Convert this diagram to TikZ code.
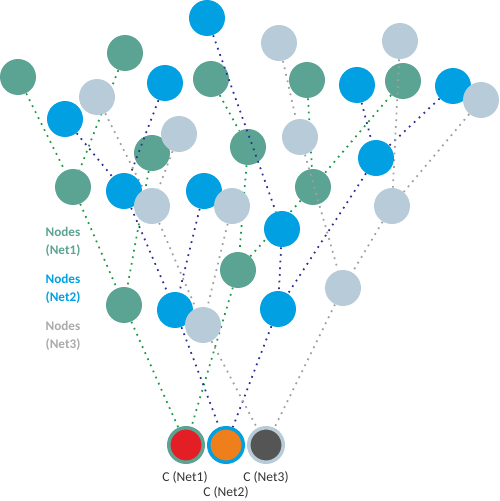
\documentclass[tikz,border=0pt]{standalone}
\usepackage{fontspec}
\setmainfont{Carlito}

\definecolor{netgreen}{RGB}{91,163,146}
\definecolor{netblue}{RGB}{0,160,227}
\definecolor{netgray}{RGB}{184,203,216}
\definecolor{dotgreen}{RGB}{30,155,70}
\definecolor{dotblue}{RGB}{46,49,146}
\definecolor{dotgray}{RGB}{160,160,160}
\definecolor{txtgray}{RGB}{170,170,170}
\definecolor{cred}{RGB}{227,30,36}
\definecolor{corange}{RGB}{238,127,26}
\definecolor{cdark}{RGB}{85,85,85}

\pgfdeclarelayer{greenlayer}
\pgfdeclarelayer{wirelayer}
\pgfsetlayers{greenlayer,wirelayer,main}

\begin{document}
\begin{tikzpicture}[x=0.02cm, y=-0.02cm,
    nd/.style={circle, inner sep=0pt, minimum size=0.72cm},
    n1/.style={nd, fill=netgreen},
    n2/.style={nd, fill=netblue},
    n3/.style={nd, fill=netgray},
    croot/.style={circle, inner sep=0pt, minimum size=0.69cm, line width=2pt},
    wire1/.style={dotgreen, line width=1pt, dash pattern=on 1pt off 2.8pt},
    wire2/.style={dotblue, line width=1pt, dash pattern=on 1pt off 2.8pt},
    wire3/.style={dotgray, line width=1pt, dash pattern=on 1pt off 2.8pt},
    legend/.style={align=center, font=\fontsize{7.5}{10}\selectfont\bfseries},
    clabel/.style={font=\fontsize{7.7}{9}\selectfont, text=black!80}]
    \useasboundingbox (0,0) rectangle (500,501);

    % Net1 nodes (drawn below the wires)
    \begin{pgfonlayer}{greenlayer}
    \node[n1] (g1) at (18,77) {};
    \node[n1] (g2) at (125,53) {};
    \node[n1] (g3) at (211,79) {};
    \node[n1] (g4) at (307,80) {};
    \node[n1] (g5) at (403,81) {};
    \node[n1] (g6) at (152,153) {};
    \node[n1] (g7) at (248,147) {};
    \node[n1] (g8) at (73,187) {};
    \node[n1] (g9) at (313,187) {};
    \node[n1] (g10) at (238,270) {};
    \node[n1] (g11) at (124,305) {};
    \end{pgfonlayer}

    % Net2 nodes
    \node[n2] (b1) at (207,18) {};
    \node[n2] (b2) at (65,119) {};
    \node[n2] (b3) at (165,83) {};
    \node[n2] (b4) at (357,85) {};
    \node[n2] (b5) at (453,86) {};
    \node[n2] (b6) at (124,191) {};
    \node[n2] (b7) at (204,191) {};
    \node[n2] (b8) at (376,158) {};
    \node[n2] (b9) at (282,229) {};
    \node[n2] (b10) at (175,310) {};
    \node[n2] (b11) at (278,309) {};

    % Net3 nodes
    \node[n3] (l1) at (279,43) {};
    \node[n3] (l2) at (400,41) {};
    \node[n3] (l3) at (97,97) {};
    \node[n3] (l4) at (179,134) {};
    \node[n3] (l5) at (481,100) {};
    \node[n3] (l6) at (300,137) {};
    \node[n3] (l7) at (152,206) {};
    \node[n3] (l8) at (232,206) {};
    \node[n3] (l9) at (392,206) {};
    \node[n3] (l10) at (343,288) {};
    \node[n3] (l11) at (203,325) {};

    % roots
    \node[croot, draw=netgreen, fill=cred] (c1) at (186,445) {};
    \node[croot, draw=netblue, fill=corange] (c2) at (226,445) {};
    \node[croot, draw=netgray, fill=cdark] (c3) at (266,445) {};

    \node[clabel] (c1txt) at (185,477) {C (Net1)};
    \node[clabel] (c2txt) at (226,492) {C (Net2)};
    \node[clabel] (c3txt) at (266,477) {C (Net3)};

    \node[legend, text=netgreen] (leg1) at (63,242) {Nodes\\(Net1)};
    \node[legend, text=netblue] (leg2) at (63,289) {Nodes\\(Net2)};
    \node[legend, text=txtgray] (leg3) at (63,336) {Nodes\\(Net3)};

    \begin{pgfonlayer}{wirelayer}
    % Net1
    \draw[wire1] (g1) -- (g8);
    \draw[wire1] (g2) -- (g8);
    \draw[wire1] (g8) -- (g11);
    \draw[wire1] (g6) -- (g11);
    \draw[wire1] (g11) -- (c1);
    \draw[wire1] (g3) -- (g7);
    \draw[wire1] (g7) -- (g10);
    \draw[wire1] (g4) -- (g9);
    \draw[wire1] (g5) -- (g9);
    \draw[wire1] (g9) -- (g10);
    \draw[wire1] (g10) -- (c1);
    % Net2
    \draw[wire2] (b2) -- (b6);
    \draw[wire2] (b3) -- (b6);
    \draw[wire2] (b6) -- (b10);
    \draw[wire2] (b7) -- (b10);
    \draw[wire2] (b10) -- (c2);
    \draw[wire2] (b1) -- (b9);
    \draw[wire2] (b9) -- (b11);
    \draw[wire2] (b4) -- (b8);
    \draw[wire2] (b5) -- (b8);
    \draw[wire2] (b8) -- (b11);
    \draw[wire2] (b11) -- (c2);
    % Net3
    \draw[wire3] (l3) -- (l7);
    \draw[wire3] (l4) -- (l7);
    \draw[wire3] (l7) -- (l11);
    \draw[wire3] (l8) -- (l11);
    \draw[wire3] (l11) -- (c3);
    \draw[wire3] (l1) -- (l6);
    \draw[wire3] (l6) -- (l10);
    \draw[wire3] (l2) -- (l9);
    \draw[wire3] (l5) -- (l9);
    \draw[wire3] (l9) -- (l10);
    \draw[wire3] (l10) -- (c3);
    \end{pgfonlayer}
\end{tikzpicture}
\end{document}
